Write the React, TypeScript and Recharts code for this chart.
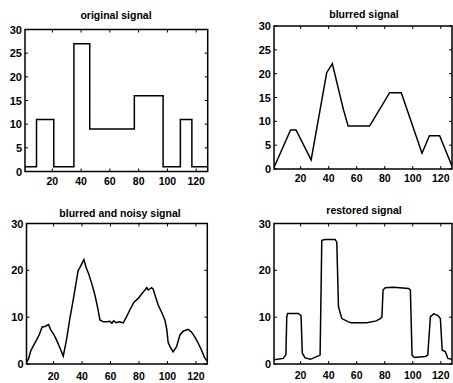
import React from 'react';
import { LineChart, Line, XAxis, YAxis, ReferenceArea } from 'recharts';

// ---- data ----
const xTicks = [20, 40, 60, 80, 100, 120];
const yTicksFine = [0, 5, 10, 15, 20, 25, 30];
const yTicksCoarse = [0, 10, 20, 30];

const originalX = [1, 9, 9, 21, 21, 35, 35, 46, 46, 77, 77, 97, 97, 109, 109, 117, 117, 128];
const originalY = [1, 1, 11, 11, 1, 1, 27, 27, 9, 9, 16, 16, 1, 1, 11, 11, 1, 1];

const blurredX = [1, 12.8, 16.7, 27.5, 38.6, 42.6, 50.6, 53.9, 69.2, 83.5, 91.8, 106.6, 111.9, 119.2, 128];
const blurredY = [0.3, 8.2, 8.2, 1.9, 20.2, 22.1, 12.4, 9.0, 9.0, 16.0, 16.0, 3.3, 7.0, 7.0, 0.6];

const noisyX = [1, 2.5, 4, 6, 8, 10, 12, 14, 16.5, 18, 20, 22, 24, 26.8, 29, 31.5, 34, 37.3, 38.5, 41.3, 43, 44.5, 47, 49, 51, 52.6, 55, 57.6, 59.6, 61, 62.2, 64, 66, 69, 71.3, 74, 76.5, 79.5, 82, 84.2, 85.5, 86.5, 88.9, 90, 92, 93.5, 96, 98.2, 99.5, 100.5, 102, 104, 106.4, 108.8, 111, 114.5, 117, 119.2, 121, 123.9, 126, 128];
const noisyY = [0.3, 1.2, 2.8, 4.0, 5.1, 6.3, 7.9, 8.0, 8.4, 7.3, 6.4, 5.2, 3.8, 1.7, 5.0, 9.8, 14.0, 20.0, 20.6, 22.3, 20.5, 19.4, 17.0, 14.8, 12.0, 9.4, 9.0, 9.0, 9.1, 8.7, 9.2, 8.8, 9.0, 8.8, 10.1, 11.8, 13.2, 14.0, 15.0, 15.8, 16.3, 15.8, 16.3, 16.0, 14.0, 12.6, 11.0, 9.4, 7.5, 4.6, 3.6, 2.6, 3.7, 6.2, 7.0, 7.4, 6.8, 5.8, 4.8, 3.0, 1.4, 0.6];

const restoredX = [1, 7.7, 9.5, 10.1, 10.8, 18.4, 20.3, 21.2, 23.2, 27, 33.9, 35.1, 37.3, 44.6, 45.8, 47, 49.4, 54.1, 56, 67.3, 74, 76.8, 78, 78.8, 80.4, 86.3, 97.1, 98.3, 99.5, 101.1, 109, 110.7, 112.6, 115, 117.8, 119.7, 121, 123.3, 125, 128];
const restoredY = [0.9, 1.2, 2.0, 10.1, 10.8, 10.8, 10.3, 2.3, 1.3, 1.0, 1.9, 26.4, 26.6, 26.6, 26.0, 12.2, 9.7, 9.0, 8.8, 8.8, 9.2, 9.7, 10.0, 15.8, 16.3, 16.4, 16.1, 15.8, 1.9, 1.4, 1.6, 1.9, 10.1, 10.7, 10.4, 9.7, 3.0, 2.6, 1.2, 1.0];

const titles = ['original signal', 'blurred signal', 'blurred and noisy signal', 'restored signal'];

const toPoints = (xs: number[], ys: number[]) => xs.map((x, i) => ({ x, y: ys[i] }));

const FONT = '"Liberation Sans", Arial, sans-serif';
const TICK_LEN = 3;

type PanelProps = {
  left: number; top: number; width: number; height: number;
  plotLeft: number; plotTop: number; plotRight: number; plotBottom: number;
  title: string; titleX: number; titleY: number;
  data: { x: number; y: number }[];
  yTicks: number[];
  xLabelGap: number;
};

function Panel(p: PanelProps) {
  const xAxisH = p.height - p.plotBottom;
  const margin = { top: p.plotTop, left: 0, right: p.width - p.plotRight, bottom: 0 };

  const xTick = (props: any) => {
    const { x, payload } = props;
    return (
      <g>
        <line x1={x} x2={x} y1={p.plotBottom} y2={p.plotBottom - TICK_LEN} stroke="#000" strokeWidth={1} />
        <line x1={x} x2={x} y1={p.plotTop} y2={p.plotTop + TICK_LEN} stroke="#000" strokeWidth={1} />
        <text x={x} y={p.plotBottom + p.xLabelGap} textAnchor="middle" dominantBaseline="central"
          fontFamily={FONT} fontSize={10.5} fontWeight="bold" fill="#000">{payload.value}</text>
      </g>
    );
  };
  const yTick = (props: any) => {
    const { y, payload } = props;
    return (
      <g>
        <line x1={p.plotLeft} x2={p.plotLeft + TICK_LEN} y1={y} y2={y} stroke="#000" strokeWidth={1} />
        <line x1={p.plotRight} x2={p.plotRight - TICK_LEN} y1={y} y2={y} stroke="#000" strokeWidth={1} />
        <text x={p.plotLeft - 3} y={y} textAnchor="end" dominantBaseline="central"
          fontFamily={FONT} fontSize={11} fontWeight="bold" fill="#000">{payload.value}</text>
      </g>
    );
  };

  return (
    <>
      <div style={{ position: 'absolute', left: p.left, top: p.top }}>
        <LineChart width={p.width} height={p.height} data={p.data} margin={margin}>
          <XAxis dataKey="x" type="number" domain={[1, 128]} allowDataOverflow ticks={xTicks}
            axisLine={false} tickLine={false} tick={xTick} height={xAxisH} interval={0} />
          <YAxis type="number" domain={[0, 30]} allowDataOverflow ticks={p.yTicks}
            axisLine={false} tickLine={false} tick={yTick} width={p.plotLeft} interval={0} />
          <ReferenceArea x1={1} x2={128} y1={0} y2={30} fill="none" stroke="#000" strokeWidth={1.5} fillOpacity={0} ifOverflow="visible" />
          <Line type="linear" dataKey="y" stroke="#000" strokeWidth={1.5} dot={false} isAnimationActive={false} />
        </LineChart>
      </div>
      <div style={{
        position: 'absolute', left: p.titleX - 100, width: 200, top: p.titleY - 7, height: 14,
        lineHeight: '14px', textAlign: 'center', fontFamily: FONT, fontSize: 10.5, fontWeight: 'bold', color: '#000',
        whiteSpace: 'nowrap',
      }}>{p.title}</div>
    </>
  );
}

export default function App() {
  return (
    <div style={{ position: 'absolute', left: 0, top: 0, width: 453, height: 383, overflow: 'hidden', background: '#fff' }}>
      <Panel left={0} top={0} width={226} height={190}
        plotLeft={25} plotTop={29.5} plotRight={207.7} plotBottom={171.5}
        title={titles[0]} titleX={116} titleY={15}
        data={toPoints(originalX, originalY)} yTicks={yTicksFine} xLabelGap={9} />
      <Panel left={226} top={0} width={240} height={190}
        plotLeft={48} plotTop={26} plotRight={226} plotBottom={169}
        title={titles[1]} titleX={364} titleY={13.5}
        data={toPoints(blurredX, blurredY)} yTicks={yTicksFine} xLabelGap={9} />
      <Panel left={0} top={190} width={226} height={193}
        plotLeft={26.5} plotTop={33.5} plotRight={207.3} plotBottom={174}
        title={titles[2]} titleX={120} titleY={212.5}
        data={toPoints(noisyX, noisyY)} yTicks={yTicksCoarse} xLabelGap={12} />
      <Panel left={226} top={190} width={240} height={193}
        plotLeft={48} plotTop={33.5} plotRight={226} plotBottom={174}
        title={titles[3]} titleX={364} titleY={210}
        data={toPoints(restoredX, restoredY)} yTicks={yTicksCoarse} xLabelGap={11} />
    </div>
  );
}
